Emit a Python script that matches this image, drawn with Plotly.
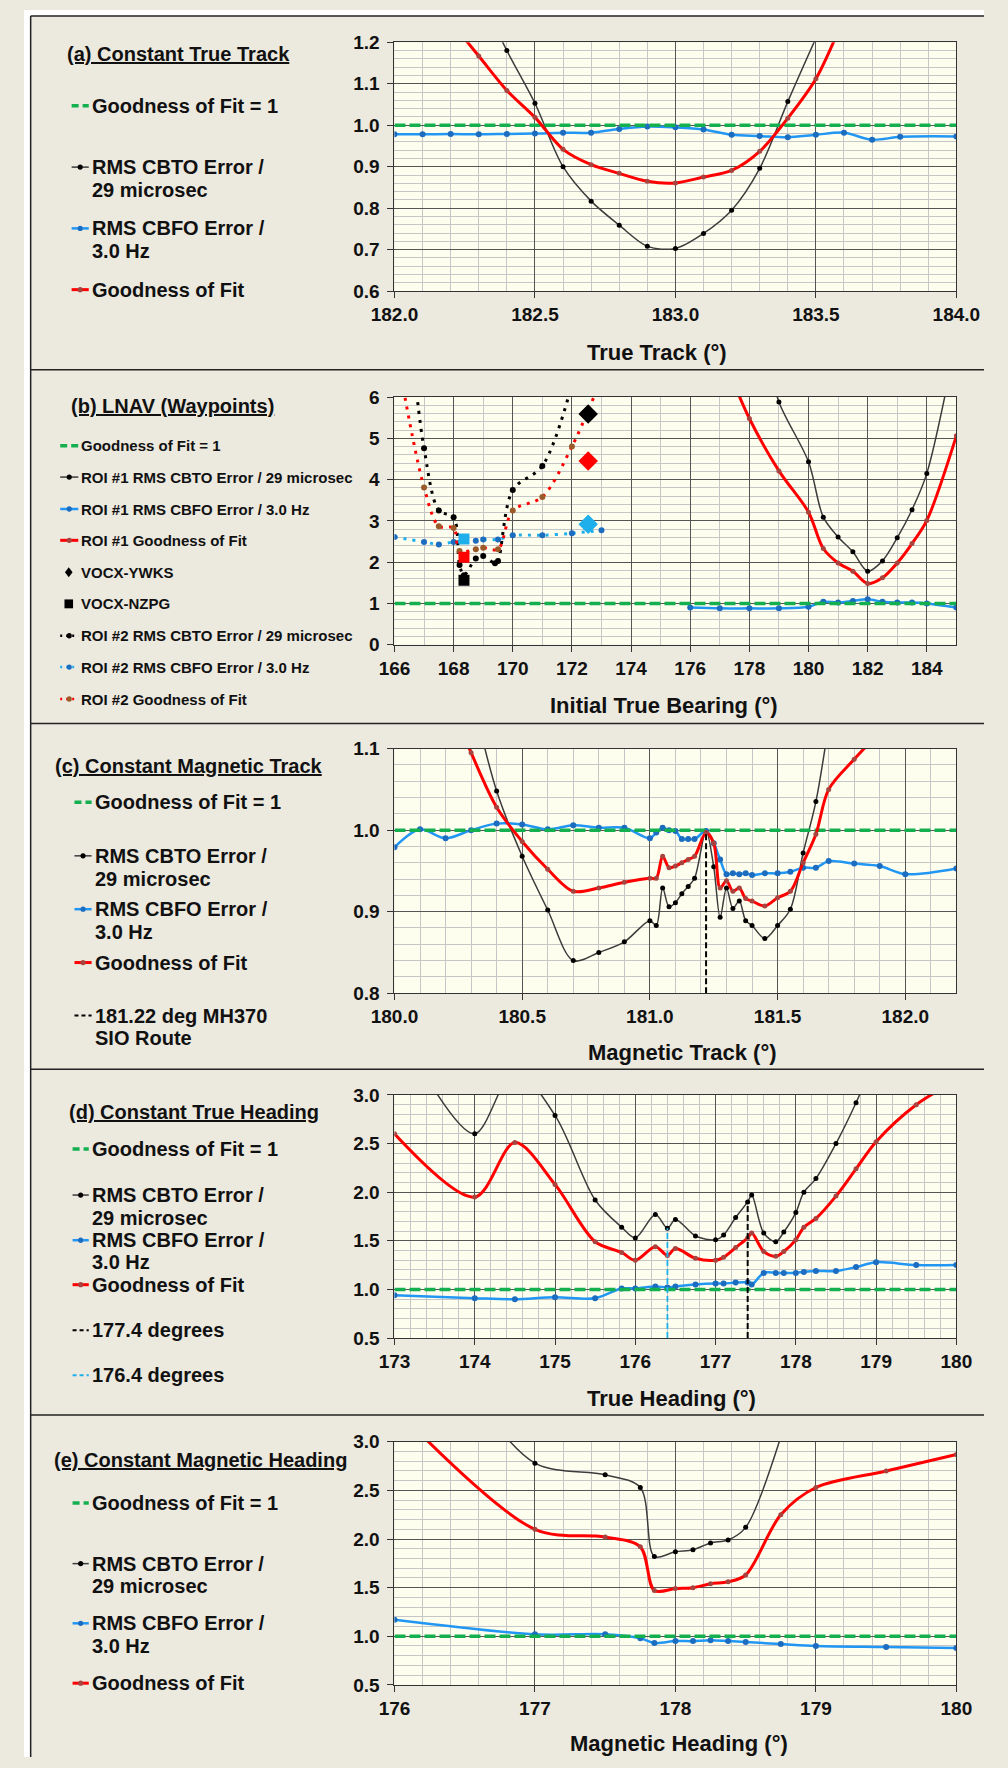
import plotly.graph_objects as go

# ============================ DATA ============================
GOF_REF = 1.0

# (a) Constant True Track
A_X_CBFO = [182.0, 182.1, 182.2, 182.3, 182.4, 182.5, 182.6, 182.7, 182.8, 182.9,
            183.0, 183.1, 183.2, 183.3, 183.4, 183.5, 183.6, 183.7, 183.8, 184.0]
A_CBFO = [0.978, 0.978, 0.979, 0.978, 0.979, 0.980, 0.982, 0.982, 0.991, 0.997,
          0.995, 0.990, 0.977, 0.974, 0.971, 0.977, 0.982, 0.965, 0.972, 0.973]
A_X_CBTO = [182.3, 182.4, 182.5, 182.6, 182.7, 182.8, 182.9, 183.0, 183.1, 183.2, 183.3, 183.4, 183.5]
A_CBTO = [1.32, 1.18, 1.053, 0.900, 0.817, 0.759, 0.708, 0.703, 0.739, 0.795, 0.896, 1.057, 1.21]
A_X_GOF = [182.2, 182.3, 182.4, 182.5, 182.6, 182.7, 182.8, 182.9, 183.0, 183.1, 183.2, 183.3, 183.4, 183.5, 183.6]
A_GOF = [1.25, 1.167, 1.084, 1.019, 0.942, 0.905, 0.884, 0.865, 0.861, 0.875, 0.891, 0.937, 1.017, 1.112, 1.26]

# (b) LNAV (Waypoints)
B1_X_CBFO = [176, 177, 178, 179, 180, 180.5, 181, 181.5, 182, 182.5, 183, 183.5, 184, 185]
B1_CBFO = [0.90, 0.88, 0.88, 0.88, 0.92, 1.04, 1.02, 1.06, 1.10, 1.04, 1.02, 1.02, 1.00, 0.90]
B1_X_CBTO = [178.5, 179, 180, 180.5, 181, 181.5, 182, 182.5, 183, 183.5, 184, 185]
B1_CBTO = [7.3, 5.88, 4.43, 3.09, 2.61, 2.25, 1.78, 2.03, 2.59, 3.27, 4.15, 7.4]
B1_X_GOF = [177.5, 178, 179, 180, 180.5, 181, 181.5, 182, 182.5, 183, 183.5, 184, 185]
B1_GOF = [6.3, 5.48, 4.21, 3.21, 2.33, 1.98, 1.78, 1.48, 1.62, 1.98, 2.45, 3.01, 5.06]

B2_X_CBTO = [166.75, 167.0, 167.5, 168.0, 168.2, 168.35, 168.75, 169.0, 169.4, 169.5, 170.0, 171.0, 172.0]
B2_CBTO = [6.1, 4.76, 3.25, 3.09, 1.93, 1.68, 2.09, 2.15, 1.97, 2.03, 3.75, 4.33, 6.3]
B2_X_CBFO = [166.0, 167.0, 167.5, 168.0, 168.75, 169.0, 169.5, 170.0, 171.0, 172.0, 173.0]
B2_CBFO = [2.61, 2.49, 2.43, 2.49, 2.52, 2.55, 2.55, 2.65, 2.65, 2.70, 2.77]
B2_X_GOF = [166.3, 167.0, 167.5, 168.0, 168.2, 168.75, 169.0, 169.5, 170.0, 171.0, 172.0, 172.8]
B2_GOF = [6.2, 3.81, 2.87, 2.83, 2.27, 2.31, 2.35, 2.31, 3.25, 3.58, 4.80, 6.1]

YWKS_X = 172.55
YWKS_CBTO, YWKS_GOF, YWKS_CBFO = 5.59, 4.45, 2.92
NZPG_X = 168.35
NZPG_CBTO, NZPG_GOF, NZPG_CBFO = 1.56, 2.12, 2.56

# (c) Constant Magnetic Track
C_X_CBTO = [180.3, 180.4, 180.5, 180.6, 180.7, 180.8, 180.9, 181.0, 181.025, 181.05, 181.075,
            181.1, 181.125, 181.15, 181.175, 181.22, 181.25, 181.275, 181.3, 181.325, 181.35,
            181.375, 181.4, 181.45, 181.5, 181.55, 181.6, 181.65, 181.7]
C_CBTO = [1.17, 1.048, 0.968, 0.902, 0.840, 0.850, 0.863, 0.889, 0.883, 0.929, 0.906,
          0.911, 0.922, 0.931, 0.941, 0.999, 0.955, 0.893, 0.929, 0.904, 0.913,
          0.889, 0.883, 0.867, 0.883, 0.903, 0.972, 1.035, 1.13]
C_X_GOF = [180.2, 180.3, 180.4, 180.5, 180.6, 180.7, 180.8, 180.9, 181.0, 181.025, 181.05,
           181.075, 181.1, 181.125, 181.15, 181.175, 181.22, 181.25, 181.275, 181.3, 181.325,
           181.35, 181.375, 181.4, 181.45, 181.5, 181.55, 181.6, 181.65, 181.7, 181.8, 181.9]
C_GOF = [1.17, 1.095, 1.028, 0.986, 0.952, 0.925, 0.929, 0.936, 0.941, 0.941, 0.968,
         0.954, 0.956, 0.960, 0.964, 0.968, 0.997, 0.984, 0.929, 0.938, 0.925,
         0.929, 0.916, 0.913, 0.907, 0.917, 0.925, 0.960, 0.995, 1.05, 1.087, 1.12]
C_X_CBFO = [180.0, 180.1, 180.2, 180.3, 180.4, 180.5, 180.6, 180.7, 180.8, 180.9, 181.0,
            181.025, 181.05, 181.075, 181.1, 181.125, 181.15, 181.175, 181.22, 181.25, 181.275,
            181.3, 181.325, 181.35, 181.375, 181.4, 181.45, 181.5, 181.55, 181.6, 181.65,
            181.7, 181.8, 181.9, 182.0, 182.2]
C_CBFO = [0.979, 1.001, 0.990, 1.0, 1.008, 1.007, 1.001, 1.006, 1.003, 1.003, 0.990,
          0.997, 1.003, 1.0, 0.999, 0.989, 0.989, 0.989, 0.999, 0.984, 0.964,
          0.946, 0.947, 0.946, 0.947, 0.945, 0.947, 0.947, 0.949, 0.954, 0.954,
          0.962, 0.959, 0.956, 0.946, 0.953]
C_ROUTE_X = 181.22
C_ROUTE_Y = [0.8, 0.999]

# (d) Constant True Heading
D_X_CBTO = [173.5, 174.0, 174.5, 175.0, 175.5, 175.83, 176.0, 176.25, 176.4, 176.5, 176.75, 177.0,
            177.1, 177.25, 177.4, 177.45, 177.6, 177.75, 177.85, 178.0, 178.1, 178.25, 178.5,
            178.75, 179.0]
D_CBTO = [3.05, 2.60, 3.25, 2.79, 1.92, 1.64, 1.53, 1.77, 1.63, 1.72, 1.55, 1.51,
          1.56, 1.74, 1.90, 1.97, 1.58, 1.49, 1.59, 1.79, 2.00, 2.14, 2.50,
          2.92, 3.40]
D_X_GOF = [173.0, 174.0, 174.5, 175.0, 175.5, 175.83, 176.0, 176.25, 176.4, 176.5, 176.75, 177.0,
           177.1, 177.25, 177.4, 177.45, 177.6, 177.75, 177.85, 178.0, 178.1, 178.25, 178.5,
           178.75, 179.0, 179.5, 180.0]
D_GOF = [2.60, 1.95, 2.51, 2.08, 1.49, 1.38, 1.30, 1.44, 1.35, 1.42, 1.32, 1.30,
         1.33, 1.43, 1.53, 1.58, 1.39, 1.34, 1.39, 1.51, 1.64, 1.73, 1.96,
         2.24, 2.52, 2.90, 3.15]
D_X_CBFO = D_X_GOF
D_CBFO = [0.94, 0.91, 0.90, 0.92, 0.91, 1.01, 1.01, 1.03, 1.02, 1.03, 1.05, 1.06,
          1.06, 1.07, 1.07, 1.05, 1.17, 1.17, 1.17, 1.17, 1.18, 1.19, 1.19,
          1.23, 1.28, 1.25, 1.25]
D_REF1_X, D_REF1_Y = 177.4, [0.5, 1.90]
D_REF2_X, D_REF2_Y = 176.4, [0.5, 1.63]

# (e) Constant Magnetic Heading
E_X_CBTO = [176.5, 177.0, 177.5, 177.75, 177.85, 178.0, 178.125, 178.25, 178.375, 178.5, 178.75]
E_CBTO = [3.6, 2.78, 2.66, 2.53, 1.82, 1.87, 1.89, 1.96, 1.99, 2.12, 3.05]
E_X_GOF = [176.0, 177.0, 177.5, 177.75, 177.85, 178.0, 178.125, 178.25, 178.375, 178.5, 178.75,
           179.0, 179.5, 180.0]
E_GOF = [3.35, 2.10, 2.02, 1.92, 1.47, 1.49, 1.50, 1.54, 1.56, 1.63, 2.25, 2.53, 2.70, 2.87]
E_X_CBFO = E_X_GOF
E_CBFO = [1.17, 1.02, 1.02, 0.98, 0.93, 0.95, 0.95, 0.96, 0.95, 0.94, 0.92, 0.90, 0.89, 0.88]

PANEL_TITLES = ["(a) Constant True Track", "(b) LNAV (Waypoints)", "(c) Constant Magnetic Track",
                "(d) Constant True Heading", "(e) Constant Magnetic Heading"]
AXIS_TITLES = ["True Track (°)", "Initial True Bearing (°)", "Magnetic Track (°)",
               "True Heading (°)", "Magnetic Heading (°)"]

# ============================ STYLE ============================
W, H = 1008, 1768
FONT = "Liberation Sans, Arial, sans-serif"
PAPER = "#ECE9DF"
PLOTBG = "#FEFEEE"
MAJ = "#555555"
MIN = "#C6C6C6"
TXT = "#111111"
GREEN = "#14B050"
BLUE_L = "#2196F3"
BLUE_M = "#1C6CC0"
BLACK_L = "#3C3C3C"
BLACK_M = "#000000"
RED_L = "#FF0000"
RED_M = "#A8443F"
BROWN_M = "#9A5A2A"
LBLUE = "#1FB0EC"


def px(x):
    return x / W


def py(y):
    return 1 - y / H


fig = go.Figure()

panels = [
    dict(xr=[182, 184], xd=0.5, xm=0.1, xf=".1f", yr=[0.6, 1.2], yd=0.1, ym=0.02, yf=".1f", top=32.7, bot=284.5),
    dict(xr=[166, 185], xd=2, xm=1, xf=".0f", yr=[0, 6], yd=1, ym=0.2, yf=".0f", top=391.7, bot=642.3),
    dict(xr=[180, 182.2], xd=0.5, xm=0.1, xf=".1f", yr=[0.8, 1.1], yd=0.1, ym=0.02, yf=".1f", top=747.5, bot=995),
    dict(xr=[173, 180], xd=1, xm=0.2, xf=".0f", yr=[0.5, 3], yd=0.5, ym=0.1, yf=".1f", top=1098, bot=1344),
    dict(xr=[176, 180], xd=1, xm=0.2, xf=".0f", yr=[0.5, 3], yd=0.5, ym=0.1, yf=".1f", top=1449, bot=1695),
]

layout_axes = {}
for i, p in enumerate(panels):
    n = "" if i == 0 else str(i + 1)
    common = dict(showgrid=True, gridcolor=MAJ, gridwidth=1, zeroline=False,
                  showline=True, linecolor="#333333", linewidth=1.2, mirror=True,
                  ticks="outside", ticklen=6, tickcolor="#333333", tickwidth=1.2,
                  tickfont=dict(family=FONT, size=19, color=TXT, weight="bold"),
                  fixedrange=True)
    layout_axes["xaxis" + n] = dict(
        common, domain=[px(389), px(979)], range=p["xr"], anchor="y" + n,
        tick0=p["xr"][0], dtick=p["xd"], tickformat=p["xf"], ticklabelstandoff=0,
        minor=dict(tick0=p["xr"][0], dtick=p["xm"], showgrid=True, gridcolor=MIN, gridwidth=1))
    layout_axes["yaxis" + n] = dict(
        common, domain=[py(p["bot"]), py(p["top"])], range=p["yr"], anchor="x" + n,
        tick0=p["yr"][0], dtick=p["yd"], tickformat=p["yf"], ticklabelstandoff=4,
        minor=dict(tick0=p["yr"][0], dtick=p["ym"], showgrid=True, gridcolor=MIN, gridwidth=1))


def series(x, y, k, color, width, mcolor=None, msize=5, dash="solid", shape="spline", mode="lines+markers"):
    n = "" if k == 0 else str(k + 1)
    fig.add_trace(go.Scatter(
        x=x, y=y, xaxis="x" + n, yaxis="y" + n, mode=mode,
        line=dict(color=color, width=width, dash=dash, shape=shape, smoothing=0.9),
        marker=dict(color=mcolor or color, size=msize, line=dict(width=0)),
        showlegend=False, hoverinfo="skip"))


def ref_line(k):
    n = "" if k == 0 else str(k + 1)
    xr = panels[k]["xr"]
    fig.add_trace(go.Scatter(x=xr, y=[GOF_REF, GOF_REF], xaxis="x" + n, yaxis="y" + n, mode="lines",
                             line=dict(color=GREEN, width=3.5, dash="11px,4px"),
                             showlegend=False, hoverinfo="skip"))


# (a)
series(A_X_CBTO, A_CBTO, 0, BLACK_L, 1.5, BLACK_M, 5)
series(A_X_CBFO, A_CBFO, 0, BLUE_L, 2.5, BLUE_M, 6)
ref_line(0)
series(A_X_GOF, A_GOF, 0, RED_L, 3, RED_M, 5)

# (b)
series(B1_X_CBTO, B1_CBTO, 1, BLACK_L, 1.5, BLACK_M, 5)
series(B1_X_CBFO, B1_CBFO, 1, BLUE_L, 2.5, BLUE_M, 6)
ref_line(1)
series(B1_X_GOF, B1_GOF, 1, RED_L, 3, RED_M, 5)
series(B2_X_CBTO, B2_CBTO, 1, BLACK_M, 3, BLACK_M, 6, dash="3px,6px")
series(B2_X_CBFO, B2_CBFO, 1, LBLUE, 3, BLUE_M, 6, dash="3px,6px")
series(B2_X_GOF, B2_GOF, 1, RED_L, 3, BROWN_M, 6, dash="3px,6px")
fig.add_trace(go.Scatter(x=[YWKS_X] * 3, y=[YWKS_CBTO, YWKS_GOF, YWKS_CBFO], xaxis="x2", yaxis="y2",
                         mode="markers", marker=dict(symbol="diamond", size=15,
                                                     color=[BLACK_M, RED_L, LBLUE]),
                         showlegend=False, hoverinfo="skip"))
fig.add_trace(go.Scatter(x=[NZPG_X] * 3, y=[NZPG_CBTO, NZPG_GOF, NZPG_CBFO], xaxis="x2", yaxis="y2",
                         mode="markers", marker=dict(symbol="square", size=11,
                                                     color=[BLACK_M, RED_L, LBLUE]),
                         showlegend=False, hoverinfo="skip"))

# (c)
series(C_X_CBTO, C_CBTO, 2, BLACK_L, 1.5, BLACK_M, 5)
series(C_X_CBFO, C_CBFO, 2, BLUE_L, 2.5, BLUE_M, 6)
ref_line(2)
series(C_X_GOF, C_GOF, 2, RED_L, 3, RED_M, 5)
series([C_ROUTE_X, C_ROUTE_X], C_ROUTE_Y, 2, "#000000", 2, dash="6px,3px", shape="linear", mode="lines")

# (d)
series(D_X_CBTO, D_CBTO, 3, BLACK_L, 1.5, BLACK_M, 5)
series(D_X_CBFO, D_CBFO, 3, BLUE_L, 2.5, BLUE_M, 6)
ref_line(3)
series(D_X_GOF, D_GOF, 3, RED_L, 3, RED_M, 5)
series([D_REF1_X, D_REF1_X], D_REF1_Y, 3, "#000000", 2, dash="6px,3px", shape="linear", mode="lines")
series([D_REF2_X, D_REF2_X], D_REF2_Y, 3, LBLUE, 1.8, dash="6px,3px", shape="linear", mode="lines")

# (e)
series(E_X_CBTO, E_CBTO, 4, BLACK_L, 1.5, BLACK_M, 5)
series(E_X_CBFO, E_CBFO, 4, BLUE_L, 2.5, BLUE_M, 6)
ref_line(4)
series(E_X_GOF, E_GOF, 4, RED_L, 3, RED_M, 5)

# ============================ FRAME, LEGENDS, TEXT ============================
shapes = []
annotations = []

# white outer margin + panel borders
shapes.append(dict(type="rect", xref="paper", yref="paper", x0=0, x1=1, y0=py(6), y1=1,
                   fillcolor="white", line=dict(width=0), layer="above"))
shapes.append(dict(type="rect", xref="paper", yref="paper", x0=0, x1=px(7), y0=0, y1=1,
                   fillcolor="white", line=dict(width=0), layer="above"))
for yy in [6, 364, 722, 1072, 1422]:
    shapes.append(dict(type="line", xref="paper", yref="paper", x0=px(7), x1=1, y0=py(yy), y1=py(yy),
                       line=dict(color="#222222", width=1.5), layer="above"))
shapes.append(dict(type="line", xref="paper", yref="paper", x0=px(7), x1=px(7), y0=0, y1=py(6),
                   line=dict(color="#222222", width=1.5), layer="above"))


def text(t, x, y, size, anchor="left", under=False):
    f = dict(family=FONT, size=size, color=TXT, weight="bold")
    if under:
        f["lineposition"] = "under"
    annotations.append(dict(text=t, x=px(x), y=py(y), xref="paper", yref="paper", xanchor=anchor,
                            yanchor="middle", showarrow=False, font=f))


def sample(kind, x0, x1, y):
    xm = (x0 + x1) / 2
    if kind == "green":
        shapes.append(dict(type="line", xref="paper", yref="paper", x0=px(x0), x1=px(x1), y0=py(y), y1=py(y),
                           line=dict(color=GREEN, width=3.5, dash="7px,4px"), layer="above"))
        return
    cfg = {
        "black": (BLACK_L, 1.5, "solid", BLACK_M),
        "blue": (BLUE_L, 2.5, "solid", BLUE_M),
        "red": (RED_L, 3, "solid", RED_M),
        "black2": (BLACK_M, 2.5, "2px,4px", BLACK_M),
        "blue2": (LBLUE, 2.5, "2px,4px", BLUE_M),
        "red2": (RED_L, 2.5, "2px,4px", BROWN_M),
        "kdash": ("#000000", 2, "4px,3px", None),
        "bdash": (LBLUE, 2, "4px,3px", None),
    }[kind]
    col, w, dash, mc = cfg
    shapes.append(dict(type="line", xref="paper", yref="paper", x0=px(x0), x1=px(x1), y0=py(y), y1=py(y),
                       line=dict(color=col, width=w, dash=dash), layer="above"))
    if mc:
        r = 2.7
        shapes.append(dict(type="circle", xref="paper", yref="paper", x0=px(xm - r), x1=px(xm + r),
                           y0=py(y + r), y1=py(y - r), fillcolor=mc, line=dict(width=0), layer="above"))


def marker_shape(kind, cx, cy, r):
    if kind == "diamond":
        path = "M {},{} L {},{} L {},{} L {},{} Z".format(px(cx), py(cy - r), px(cx + r * 0.8), py(cy),
                                                       px(cx), py(cy + r), px(cx - r * 0.8), py(cy))
        shapes.append(dict(type="path", xref="paper", yref="paper", path=path, fillcolor="#000000",
                           line=dict(width=0), layer="above"))
    else:
        shapes.append(dict(type="rect", xref="paper", yref="paper", x0=px(cx - r), x1=px(cx + r),
                           y0=py(cy + r), y1=py(cy - r), fillcolor="#000000", line=dict(width=0),
                           layer="above"))


# panel titles
text(PANEL_TITLES[0], 43, 45, 20, under=True)
text(PANEL_TITLES[1], 47, 400.7, 20, under=True)
text(PANEL_TITLES[2], 30, 765, 20, under=True)
text(PANEL_TITLES[3], 45, 1115, 20, under=True)
text(PANEL_TITLES[4], 29, 1467, 20, under=True)

# axis titles
for t, (x, y) in zip(AXIS_TITLES, [(665, 347), (672, 703.5), (691, 1055), (680, 1405), (688, 1754)]):
    text(t, x, y, 22, anchor="center")

LEG_A = [("green", [(97, "Goodness of Fit = 1")]),
         ("black", [(159, "RMS CBTO Error /"), (182, "29 microsec")]),
         ("blue", [(221, "RMS CBFO Error /"), (244, "3.0 Hz")]),
         ("red", [(283, "Goodness of Fit")])]
LEG_C = [("green", [(801.7, "Goodness of Fit = 1")]),
         ("black", [(856, "RMS CBTO Error /"), (879, "29 microsec")]),
         ("blue", [(910, "RMS CBFO Error /"), (933, "3.0 Hz")]),
         ("red", [(964, "Goodness of Fit")]),
         ("kdash", [(1017.7, "181.22 deg MH370"), (1040.7, "SIO Route")])]
LEG_D = [("green", [(1152.7, "Goodness of Fit = 1")]),
         ("black", [(1199.3, "RMS CBTO Error /"), (1222.3, "29 microsec")]),
         ("blue", [(1245, "RMS CBFO Error /"), (1267.3, "3.0 Hz")]),
         ("red", [(1290, "Goodness of Fit")]),
         ("kdash", [(1336, "177.4 degrees")]),
         ("bdash", [(1381.7, "176.4 degrees")])]
LEG_E = [("green", [(1511, "Goodness of Fit = 1")]),
         ("black", [(1572.3, "RMS CBTO Error /"), (1595, "29 microsec")]),
         ("blue", [(1632.7, "RMS CBFO Error /"), (1655.7, "3.0 Hz")]),
         ("red", [(1693.3, "Goodness of Fit")])]

for leg, (sx0, sx1, tx) in [(LEG_A, (50, 68, 69)), (LEG_C, (53, 71, 72.6)),
                            (LEG_D, (51, 68, 69)), (LEG_E, (51, 68, 69))]:
    for kind, lines in leg:
        sample(kind, sx0, sx1, lines[0][0])
        for y, t in lines:
            text(t, tx, y, 20)

LEG_B = [("green", 441, "Goodness of Fit = 1"),
         ("black", 472.7, "ROI #1 RMS CBTO Error / 29 microsec"),
         ("blue", 505, "ROI #1 RMS CBFO Error / 3.0 Hz"),
         ("red", 536.7, "ROI #1 Goodness of Fit"),
         ("diamond", 569, "VOCX-YWKS"),
         ("square", 601, "VOCX-NZPG"),
         ("black2", 633.3, "ROI #2 RMS CBTO Error / 29 microsec"),
         ("blue2", 665, "ROI #2 RMS CBFO Error / 3.0 Hz"),
         ("red2", 697.3, "ROI #2 Goodness of Fit")]
for kind, y, t in LEG_B:
    if kind == "diamond":
        marker_shape("diamond", 47, y, 5)
    elif kind == "square":
        marker_shape("square", 47, y, 4.5)
    else:
        sample(kind, 38, 57, y)
    text(t, 58, y, 15)

fig.update_layout(
    width=W, height=H, margin=dict(l=0, r=0, t=0, b=0),
    paper_bgcolor=PAPER, plot_bgcolor=PLOTBG,
    font=dict(family=FONT, color=TXT),
    showlegend=False, shapes=shapes, annotations=annotations,
    **layout_axes)

fig.write_html("out.html")
